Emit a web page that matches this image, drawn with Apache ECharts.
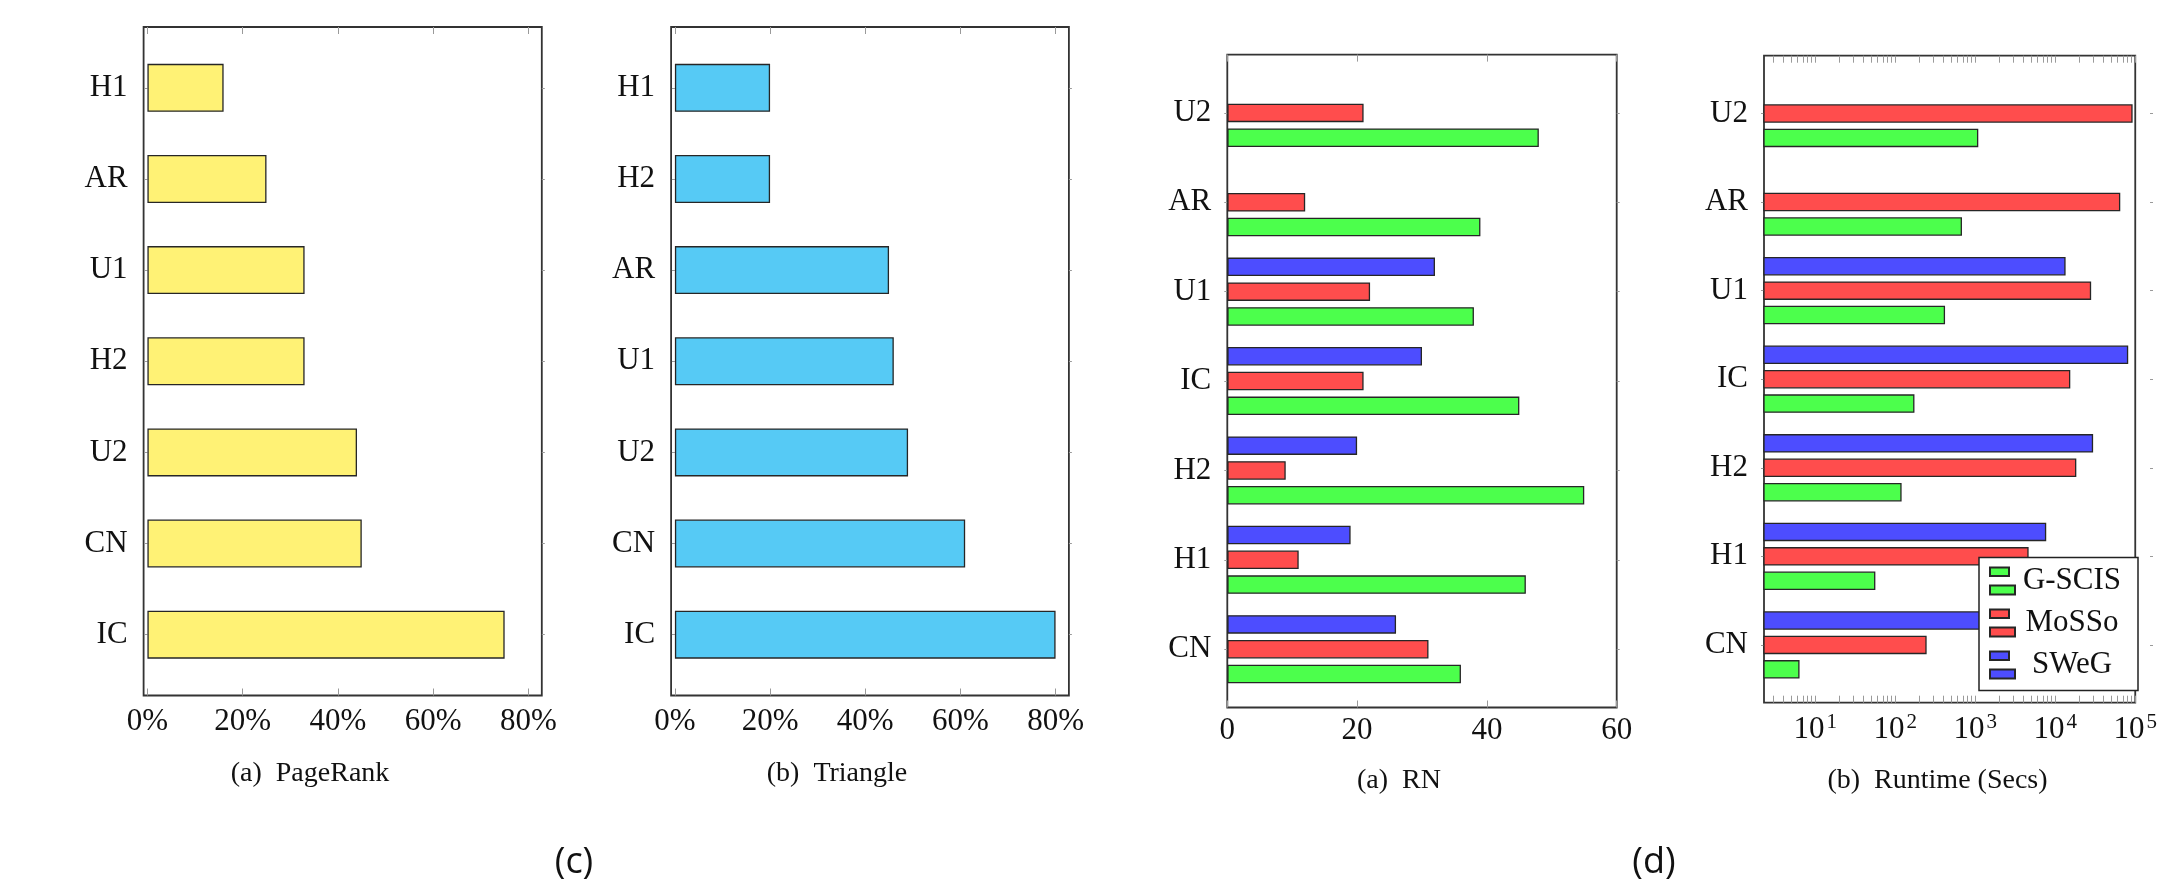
<!DOCTYPE html>
<html>
<head>
<meta charset="utf-8">
<script src="https://cdn.jsdelivr.net/npm/echarts@6/dist/echarts.min.js"></script>
<style>
  html, body { margin: 0; padding: 0; background: #ffffff; }
  #chart { width: 2160px; height: 883px; }
</style>
</head>
<body>
<div id="chart"></div>
<script>
// ---- (c) share of compression gain per dataset, top to bottom ----
const prCategories = ['H1', 'AR', 'U1', 'H2', 'U2', 'CN', 'IC'];
const prValues = [16, 25, 33, 33, 44, 45, 75];
const triCategories = ['H1', 'H2', 'AR', 'U1', 'U2', 'CN', 'IC'];
const triValues = [20, 20, 45, 46, 49, 61, 80];
const pctTicks = [0, 20, 40, 60, 80];

// ---- (d) RN and runtime per method, top to bottom ----
const methodCategories = ['U2', 'AR', 'U1', 'IC', 'H2', 'H1', 'CN'];
const methodNames = ['G-SCIS', 'MoSSo', 'SWeG'];
const rnGSCIS = [48, 39, 38, 45, 55, 46, 36];
const rnMoSSo = [21, 12, 22, 21, 9, 11, 31];
const rnSWeG = [null, null, 32, 30, 20, 19, 26];
const rnTicks = [0, 20, 40, 60];
const rtGSCIS = [861, 548, 343, 147, 103, 49.8, 6.1];
const rtMoSSo = [61800, 43900, 19600, 11000, 13000, 3470, 206];
const rtSWeG = [null, null, 9660, 54700, 20700, 5650, 2500];
const rtMajorTicks = [10, 100, 1000, 10000, 100000];

const SERIF = 'Liberation Serif';
const INK = '#111111';
const COLORS = { 'G-SCIS': '#4cff4c', 'MoSSo': '#ff4d4d', 'SWeG': '#4d4dff' };
const RT_MIN = 2.28, RT_MAX = 100000;

// minor ticks of the log axis: 2..9 times each decade inside the range
const rtAllTicks = [];
[1].concat(rtMajorTicks.slice(0, -1)).forEach(function (d) {
  for (let m = 1; m <= 9; m++) {
    const v = m * d;
    if (v >= RT_MIN && v <= RT_MAX) rtAllTicks.push(v);
  }
});
rtAllTicks.push(RT_MAX);

// panel frames (plot boxes) and the inner band used by the categories
const panels = [
  { box: [143.6, 27, 541.8, 695.5], pad: 15.3, cats: prCategories },
  { box: [671.1, 27, 1068.9, 695.5], pad: 15.3, cats: triCategories },
  { box: [1227.3, 54.6, 1616.7, 707.5], pad: 13.6, cats: methodCategories },
  { box: [1764, 55.7, 2150, 702.7], pad: 13.5, cats: methodCategories }
];

const grid = [], xAxis = [], yAxis = [], series = [];

function tickStyle(len, inside) {
  return { show: true, inside: inside, length: len, lineStyle: { color: '#9a9a9a', width: 1 } };
}

panels.forEach(function (p, i) {
  const [l, t, r, b] = p.box;
  // frame grid
  grid.push({ left: l, top: t, width: r - l, height: b - t, show: true,
    borderColor: '#333333', borderWidth: 1.8, backgroundColor: 'transparent', containLabel: false });
  // data grid
  grid.push({ left: l, top: t + p.pad, width: r - l, height: (b - t) - 2 * p.pad, show: false });
});

function valueAxisBase(i, extra) {
  return Object.assign({ gridIndex: i, splitLine: { show: false }, axisLine: { show: false } }, extra);
}

// x ranges per panel
const xRanges = [
  { type: 'value', min: -0.8, max: 82.8, ticks: pctTicks, fmt: function (v) { return v + '%'; } },
  { type: 'value', min: -0.8, max: 82.8, ticks: pctTicks, fmt: function (v) { return v + '%'; } },
  { type: 'value', min: 0, max: 60, ticks: rnTicks, fmt: function (v) { return String(v); } },
  { type: 'log', min: RT_MIN, max: RT_MAX, ticks: rtMajorTicks, minor: rtAllTicks,
    fmt: function (v) { return '{b|10}{s|' + Math.round(Math.log10(v)) + '}'; } }
];
const labelMargins = [11, 11, 8, 9];

panels.forEach(function (p, i) {
  const fg = 2 * i, dg = 2 * i + 1;
  const xr = xRanges[i];
  const tickVals = xr.minor || xr.ticks;
  const common = { type: xr.type, min: xr.min, max: xr.max, logBase: 10 };
  // frame bottom axis: ticks + labels
  xAxis.push(valueAxisBase(fg, Object.assign({}, common, {
    position: 'bottom',
    axisTick: Object.assign(tickStyle(7, true), { customValues: tickVals }),
    axisLabel: {
      show: true, customValues: xr.ticks, formatter: xr.fmt, margin: labelMargins[i],
      fontFamily: SERIF, fontSize: 31, color: INK,
      rich: {
        b: { fontFamily: SERIF, fontSize: 31, color: INK, lineHeight: 34, verticalAlign: 'bottom' },
        s: { fontFamily: SERIF, fontSize: 21, color: INK, lineHeight: 34, verticalAlign: 'top', padding: [0, 0, 0, 2] }
      }
    }
  })));
  // frame top axis: ticks only
  xAxis.push(valueAxisBase(fg, Object.assign({}, common, {
    position: 'top',
    axisTick: Object.assign(tickStyle(7, true), { customValues: tickVals }),
    axisLabel: { show: false }
  })));
  // data grid axis (hidden, same scale)
  xAxis.push(valueAxisBase(dg, Object.assign({}, common, { show: false })));

  yAxis.push({ gridIndex: fg, type: 'value', show: false, min: 0, max: 1 });
  yAxis.push({ gridIndex: dg, type: 'category', data: p.cats, inverse: true, position: 'left',
    axisLine: { show: false }, axisTick: Object.assign(tickStyle(3, false), { alignWithLabel: true }),
    axisLabel: { margin: 16, fontFamily: SERIF, fontSize: 31, color: INK } });
  yAxis.push({ gridIndex: dg, type: 'category', data: p.cats, inverse: true, position: 'right',
    axisLine: { show: false }, axisTick: Object.assign(tickStyle(3, false), { alignWithLabel: true }),
    axisLabel: { show: false } });
});

const barBorder = { borderColor: '#262626', borderWidth: 1.3 };

series.push({ name: 'PageRank', type: 'bar', xAxisIndex: 2, yAxisIndex: 1, data: prValues,
  barWidth: 48, clip: true, itemStyle: Object.assign({ color: '#fff275' }, barBorder) });
series.push({ name: 'Triangle', type: 'bar', xAxisIndex: 5, yAxisIndex: 4, data: triValues,
  barWidth: 48, clip: true, itemStyle: Object.assign({ color: '#56caf5' }, barBorder) });

const rnByName = { 'G-SCIS': rnGSCIS, 'MoSSo': rnMoSSo, 'SWeG': rnSWeG };
const rtByName = { 'G-SCIS': rtGSCIS, 'MoSSo': rtMoSSo, 'SWeG': rtSWeG };
// within each group: SWeG on top, MoSSo middle, G-SCIS bottom
['SWeG', 'MoSSo', 'G-SCIS'].forEach(function (name) {
  series.push({ name: name, type: 'bar', xAxisIndex: 8, yAxisIndex: 7, data: rnByName[name],
    barWidth: 18.5, barGap: '34%', clip: true,
    itemStyle: Object.assign({ color: COLORS[name] }, barBorder) });
  series.push({ name: name, type: 'bar', xAxisIndex: 11, yAxisIndex: 10, data: rtByName[name],
    barWidth: 18.5, barGap: '32%', clip: true,
    itemStyle: Object.assign({ color: COLORS[name] }, barBorder) });
});

function caption(text, x, y, size, family) {
  return { type: 'text', x: x, y: y, z: 10,
    style: { text: text, fontFamily: family || SERIF, fontSize: size, fill: INK,
      textAlign: 'center', textVerticalAlign: 'middle' } };
}

const option = {
  animation: false,
  backgroundColor: '#ffffff',
  grid: grid,
  xAxis: xAxis,
  yAxis: yAxis,
  series: series,
  legend: {
    data: methodNames,
    selectedMode: false,
    orient: 'vertical',
    left: 1979, top: 557.5,
    padding: [8, 14, 10, 10],
    itemGap: 11,
    itemWidth: 25, itemHeight: 27,
    icon: 'path://M0,0H19V8.5H0Z M0,18H25V27H0Z',
    backgroundColor: '#ffffff',
    borderColor: '#222222', borderWidth: 1.5, borderRadius: 0,
    formatter: '{c|{name}}',
    textStyle: {
      fontFamily: SERIF, fontSize: 31, color: INK,
      rich: { c: { fontFamily: SERIF, fontSize: 31, color: INK, width: 104, align: 'center', lineHeight: 27 } }
    }
  },
  graphic: { elements: [
    caption('(a)\u2002PageRank', 310, 774, 28),
    caption('(b)\u2002Triangle', 837, 774, 28),
    caption('(a)\u2002RN', 1399, 781, 28),
    caption('(b)\u2002Runtime (Secs)', 1937.5, 781, 28),
    caption('(c)', 574, 863, 36, 'Open Sans'),
    caption('(d)', 1654, 863, 36, 'Open Sans')
  ] }
};

const chart = echarts.init(document.getElementById('chart'), null, { renderer: 'canvas', width: 2160, height: 883 });
chart.setOption(option);
</script>
</body>
</html>
